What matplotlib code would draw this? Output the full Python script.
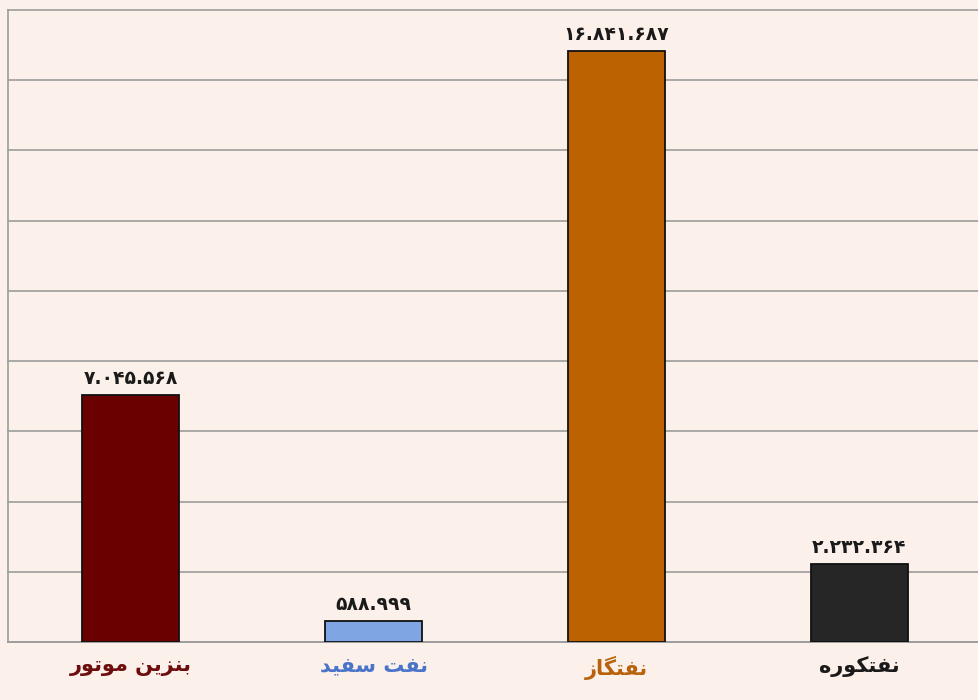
import matplotlib
matplotlib.use('Agg')
import matplotlib.pyplot as plt
import numpy as np

# data
categories = ['بنزین موتور', 'نفت سفید', 'نفتگاز', 'نفتکوره']
values = [7045568, 588999, 16841687, 2232364]
bar_colors = ['#6b0000', '#7fa6e3', '#bd6200', '#262626']
label_colors = ['#6e0d0d', '#4a74c9', '#b8620c', '#1a1a1a']
y_ticks = np.arange(0, 18000001, 2000000)

# arabic presentation forms: iso, fin, init, med (None = does not join left)
FORMS = {
    'ب': ('\uFE8F', '\uFE90', '\uFE91', '\uFE92'),
    'ن': ('\uFEE5', '\uFEE6', '\uFEE7', '\uFEE8'),
    'ز': ('\uFEAF', '\uFEB0', None, None),
    'ی': ('\uFBFC', '\uFBFD', '\uFBFE', '\uFBFF'),
    'م': ('\uFEE1', '\uFEE2', '\uFEE3', '\uFEE4'),
    'و': ('\uFEED', '\uFEEE', None, None),
    'ت': ('\uFE95', '\uFE96', '\uFE97', '\uFE98'),
    'ر': ('\uFEAD', '\uFEAE', None, None),
    'ف': ('\uFED1', '\uFED2', '\uFED3', '\uFED4'),
    'س': ('\uFEB1', '\uFEB2', '\uFEB3', '\uFEB4'),
    'د': ('\uFEA9', '\uFEAA', None, None),
    'گ': ('\uFB92', '\uFB93', '\uFB94', '\uFB95'),
    'ا': ('\uFE8D', '\uFE8E', None, None),
    'ک': ('\uFB8E', '\uFB8F', '\uFB90', '\uFB91'),
    'ه': ('\uFEE9', '\uFEEA', '\uFEEB', '\uFEEC'),
}


def shape(text):
    # matplotlib has no arabic shaping, so pick the forms by hand and reverse
    out = []
    for i, ch in enumerate(text):
        if ch not in FORMS:
            out.append(ch)
            continue
        prev = text[i - 1] if i > 0 else None
        nxt = text[i + 1] if i + 1 < len(text) else None
        join_prev = prev in FORMS and FORMS[prev][2] is not None
        join_next = nxt in FORMS and FORMS[ch][2] is not None
        f = FORMS[ch]
        if join_prev and join_next:
            out.append(f[3])
        elif join_prev:
            out.append(f[1])
        elif join_next:
            out.append(f[2])
        else:
            out.append(f[0])
    return ''.join(reversed(out))


def fa_num(v):
    s = f'{v:,}'.replace(',', '.')
    return s.translate(str.maketrans('0123456789', '۰۱۲۳۴۵۶۷۸۹'))


fig = plt.figure(figsize=(9.79, 7.0), dpi=100)
fig.patch.set_facecolor('#fcf0ea')
ax = fig.add_axes([8 / 979, 58 / 700, 971 / 979, 632 / 700])
ax.set_facecolor('#fcf0ea')

x = np.arange(len(categories))
ax.bar(x, values, width=0.40, color=bar_colors, edgecolor='#111111', linewidth=1.3, zorder=3)

for xi, v in zip(x, values):
    ax.annotate(fa_num(v), (xi, v), xytext=(0, 5), textcoords='offset points',
                ha='center', va='bottom', fontsize=13.5, fontweight='bold',
                family=['DejaVu Sans'], color='#1a1a1a')

ax.set_xlim(-0.506, 3.494)
ax.set_ylim(0, 18000000)
ax.set_yticks(y_ticks)
ax.yaxis.grid(True, color='#9c9c9c', linewidth=1.2, zorder=0)
for gl in ax.get_ygridlines():
    gl.set_clip_on(False)
ax.tick_params(axis='both', length=0, labelleft=False)
ax.set_xticks(x)
ax.set_xticklabels([shape(c) for c in categories], fontsize=15, fontweight='bold')
for lbl, c in zip(ax.get_xticklabels(), label_colors):
    lbl.set_color(c)
ax.tick_params(axis='x', pad=10)

for s in ['top', 'right']:
    ax.spines[s].set_visible(False)
ax.spines['left'].set_color('#9c9c9c')
ax.spines['left'].set_linewidth(1.2)
ax.spines['bottom'].set_color('#9c9c9c')
ax.spines['bottom'].set_linewidth(1.2)

fig.savefig('out.png', dpi=100, facecolor=fig.get_facecolor())
